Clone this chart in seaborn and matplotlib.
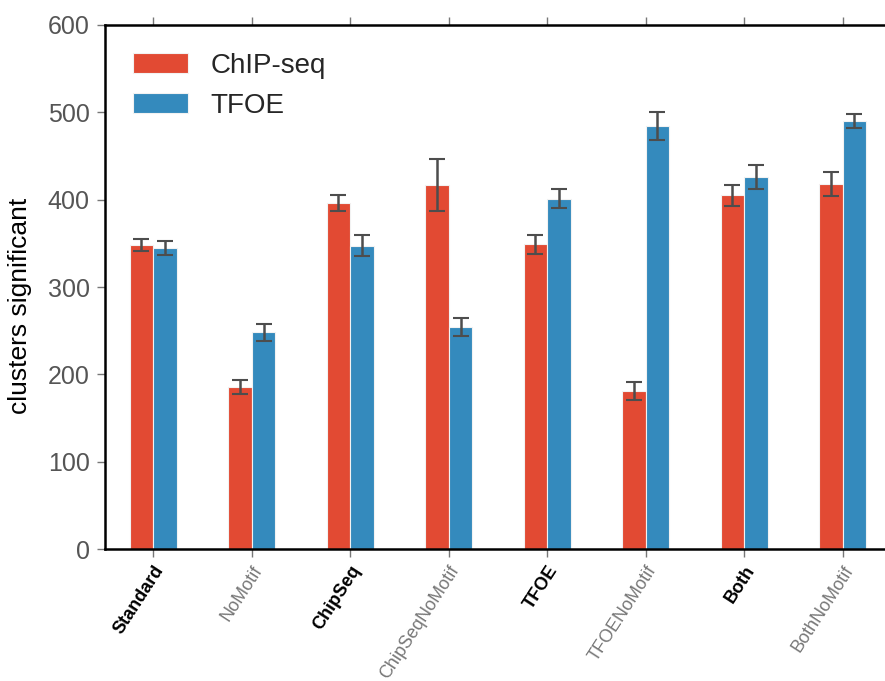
import numpy as np
import pandas as pd
import matplotlib
matplotlib.use("Agg")
import matplotlib.pyplot as plt
import seaborn as sns

# === Data ===
categories = ["Standard", "NoMotif", "ChipSeq", "ChipSeqNoMotif",
              "TFOE", "TFOENoMotif", "Both", "BothNoMotif"]
chip_mean = [348, 186, 396, 417, 349, 181, 405, 418]
chip_err = [7, 8, 9, 30, 11, 10, 12, 14]
tfoe_mean = [345, 248, 347, 254, 401, 484, 426, 490]
tfoe_err = [8, 10, 12, 10, 11, 16, 14, 8]
series = ["ChIP-seq", "TFOE"]
colors = ["#E24A33", "#348ABD"]

df = pd.DataFrame({
    "condition": categories * 2,
    "method": [series[0]] * len(categories) + [series[1]] * len(categories),
    "value": chip_mean + tfoe_mean,
})

# === Style ===
sns.set_theme(style="white")
plt.rcParams["font.family"] = ["Liberation Sans", "DejaVu Sans"]

fig = plt.figure(figsize=(8.85, 6.81), dpi=100)
ax = fig.add_axes([0.1186, 0.1938, 0.8814, 0.7695])

sns.barplot(data=df, x="condition", y="value", hue="method", order=categories,
            hue_order=series, palette=colors, saturation=1, width=0.48, gap=0,
            errorbar=None, edgecolor="#f2f2f2", linewidth=0.8, ax=ax)

# error bars placed at the centres of the bars seaborn drew
errs = {series[0]: chip_err, series[1]: tfoe_err}
for container, name in zip(ax.containers, series):
    xs = [p.get_x() + p.get_width() / 2 for p in container.patches]
    ys = [p.get_height() for p in container.patches]
    ax.errorbar(xs, ys, yerr=errs[name], fmt="none", ecolor="#4d4d4d",
                elinewidth=1.8, capsize=6, capthick=1.5, zorder=5)

ax.set_xlim(-0.49, 7.43)
ax.set_ylim(0, 600)
ax.set_yticks(range(0, 601, 100))
ax.set_xlabel("")
ax.set_ylabel("clusters significant", fontsize=19, color="black")
ax.yaxis.set_label_coords(-0.093, 0.464)

for side in ["left", "top", "bottom"]:
    ax.spines[side].set_color("black")
    ax.spines[side].set_linewidth(1.8)
ax.spines["right"].set_visible(False)

ax.tick_params(axis="y", direction="out", length=6, width=1, color="#777777",
               labelcolor="#555555", labelsize=18, left=True, pad=5)
ax.tick_params(axis="x", direction="out", length=6, width=1, color="#777777",
               top=True, bottom=True)
ax.set_xticks(range(len(categories)))
ax.set_xticklabels(categories, rotation=57, ha="right", rotation_mode="anchor",
                   fontsize=13)
for lab in ax.get_xticklabels():
    if "NoMotif" in lab.get_text():
        lab.set_color("#777777")
        lab.set_fontweight("normal")
    else:
        lab.set_color("black")
        lab.set_fontweight("bold")

leg = ax.legend(loc="upper left", frameon=False, fontsize=20,
                handlelength=2.0, handleheight=0.7, labelspacing=0.5,
                handletextpad=0.8, borderaxespad=0.6)

fig.savefig("out.png", dpi=100)
